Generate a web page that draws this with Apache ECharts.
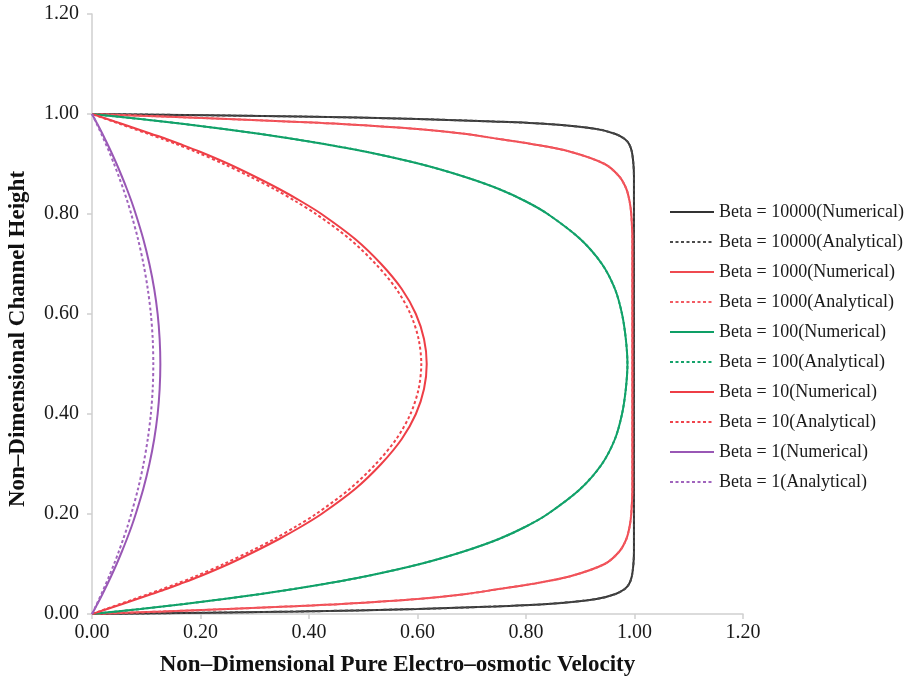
<!DOCTYPE html>
<html>
<head>
<meta charset="utf-8">
<script src="https://cdn.jsdelivr.net/npm/echarts@6/dist/echarts.min.js"></script>
<style>
  html, body { margin: 0; padding: 0; background: #ffffff; }
  #chart { width: 908px; height: 682px; }
</style>
</head>
<body>
<div id="chart"></div>
<script>
// Channel heights at which each velocity profile is sampled (dense near the walls)
const heights = [0, 0.005, 0.01, 0.015, 0.02, 0.03, 0.04, 0.05, 0.06, 0.075, 0.1, 0.125, 0.15, 0.175, 0.2, 0.25, 0.3, 0.35, 0.4, 0.45, 0.5,
                 0.55, 0.6, 0.65, 0.7, 0.75, 0.8, 0.825, 0.85, 0.875, 0.9, 0.925, 0.94, 0.95, 0.96, 0.97, 0.98, 0.985, 0.99, 0.995, 1];

// Velocity profiles, one value per height
const beta10000Num = [0, 0.38, 0.6, 0.74, 0.84, 0.93, 0.965, 0.982, 0.99, 0.995, 0.998, 0.999, 0.999, 0.999, 0.999, 0.999, 0.999, 0.999, 0.999, 0.999, 0.999,
                      0.999, 0.999, 0.999, 0.999, 0.999, 0.999, 0.999, 0.999, 0.999, 0.998, 0.995, 0.99, 0.982, 0.965, 0.93, 0.84, 0.74, 0.6, 0.38, 0];
const beta10000Ana = [0, 0.38, 0.6, 0.74, 0.84, 0.93, 0.965, 0.982, 0.99, 0.995, 0.998, 0.999, 0.999, 0.999, 0.999, 0.999, 0.999, 0.999, 0.999, 0.999, 0.999,
                      0.999, 0.999, 0.999, 0.999, 0.999, 0.999, 0.999, 0.999, 0.999, 0.998, 0.995, 0.99, 0.982, 0.965, 0.93, 0.84, 0.74, 0.6, 0.38, 0];
const beta1000Num = [0, 0.13, 0.25, 0.36, 0.46, 0.6, 0.69, 0.75, 0.81, 0.88, 0.945, 0.972, 0.985, 0.991, 0.994, 0.996, 0.996, 0.996, 0.996, 0.996, 0.996,
                     0.996, 0.996, 0.996, 0.996, 0.996, 0.994, 0.991, 0.985, 0.972, 0.945, 0.88, 0.81, 0.75, 0.69, 0.6, 0.46, 0.36, 0.25, 0.13, 0];
const beta1000Ana = [0, 0.13, 0.25, 0.36, 0.46, 0.6, 0.69, 0.75, 0.81, 0.88, 0.945, 0.972, 0.985, 0.991, 0.994, 0.996, 0.996, 0.996, 0.996, 0.996, 0.996,
                     0.996, 0.996, 0.996, 0.996, 0.996, 0.994, 0.991, 0.985, 0.972, 0.945, 0.88, 0.81, 0.75, 0.69, 0.6, 0.46, 0.36, 0.25, 0.13, 0];
const beta100Num = [0, 0.045, 0.089, 0.13, 0.17, 0.243, 0.311, 0.372, 0.428, 0.503, 0.605, 0.685, 0.75, 0.8, 0.84, 0.9, 0.94, 0.964, 0.977, 0.984, 0.987,
                    0.984, 0.977, 0.964, 0.94, 0.9, 0.84, 0.8, 0.75, 0.685, 0.605, 0.503, 0.428, 0.372, 0.311, 0.243, 0.17, 0.13, 0.089, 0.045, 0];
const beta100Ana = [0, 0.045, 0.089, 0.13, 0.17, 0.243, 0.311, 0.372, 0.428, 0.503, 0.605, 0.685, 0.75, 0.8, 0.84, 0.9, 0.94, 0.964, 0.977, 0.984, 0.987,
                    0.984, 0.977, 0.964, 0.94, 0.9, 0.84, 0.8, 0.75, 0.685, 0.605, 0.503, 0.428, 0.372, 0.311, 0.243, 0.17, 0.13, 0.089, 0.045, 0];
const beta10Num = [0, 0.014, 0.028, 0.042, 0.056, 0.083, 0.11, 0.137, 0.162, 0.198, 0.252, 0.3, 0.345, 0.386, 0.423, 0.485, 0.533, 0.571, 0.597, 0.612, 0.617,
                   0.612, 0.597, 0.571, 0.533, 0.485, 0.423, 0.386, 0.345, 0.3, 0.252, 0.198, 0.162, 0.137, 0.11, 0.083, 0.056, 0.042, 0.028, 0.014, 0];
const beta10Ana = [0, 0.013, 0.026, 0.039, 0.052, 0.078, 0.104, 0.13, 0.155, 0.19, 0.243, 0.291, 0.336, 0.376, 0.413, 0.475, 0.523, 0.561, 0.587, 0.602, 0.607,
                   0.602, 0.587, 0.561, 0.523, 0.475, 0.413, 0.376, 0.336, 0.291, 0.243, 0.19, 0.155, 0.13, 0.104, 0.078, 0.052, 0.039, 0.026, 0.013, 0];
const beta1Num = [0, 0.0025, 0.005, 0.0074, 0.0099, 0.0147, 0.0194, 0.0239, 0.0284, 0.035, 0.0454, 0.0551, 0.0643, 0.0729, 0.0806, 0.0945, 0.1058, 0.1147, 0.121, 0.1247, 0.126,
                  0.1247, 0.121, 0.1147, 0.1058, 0.0945, 0.0806, 0.0729, 0.0643, 0.0551, 0.0454, 0.035, 0.0284, 0.0239, 0.0194, 0.0147, 0.0099, 0.0074, 0.005, 0.0025, 0];
const beta1Ana = [0, 0.0023, 0.0045, 0.0067, 0.0089, 0.0132, 0.0174, 0.0215, 0.0255, 0.0314, 0.0407, 0.0494, 0.0576, 0.0653, 0.0723, 0.0848, 0.0949, 0.1028, 0.1085, 0.1119, 0.113,
                  0.1119, 0.1085, 0.1028, 0.0949, 0.0848, 0.0723, 0.0653, 0.0576, 0.0494, 0.0407, 0.0314, 0.0255, 0.0215, 0.0174, 0.0132, 0.0089, 0.0067, 0.0045, 0.0023, 0];

const axisTicks = [0, 0.2, 0.4, 0.6, 0.8, 1.0, 1.2];

const seriesDefs = [
  { name: 'Beta = 10000(Numerical)',  values: beta10000Num, color: '#333333', dashed: false },
  { name: 'Beta = 10000(Analytical)', values: beta10000Ana, color: '#4a4a4a', dashed: true },
  { name: 'Beta = 1000(Numerical)',   values: beta1000Num,  color: '#ef4a50', dashed: false },
  { name: 'Beta = 1000(Analytical)',  values: beta1000Ana,  color: '#f25a62', dashed: true },
  { name: 'Beta = 100(Numerical)',    values: beta100Num,   color: '#0e9f66', dashed: false },
  { name: 'Beta = 100(Analytical)',   values: beta100Ana,   color: '#13a36b', dashed: true },
  { name: 'Beta = 10(Numerical)',     values: beta10Num,    color: '#ee3e46', dashed: false },
  { name: 'Beta = 10(Analytical)',    values: beta10Ana,    color: '#f0434b', dashed: true },
  { name: 'Beta = 1(Numerical)',      values: beta1Num,     color: '#9957b5', dashed: false },
  { name: 'Beta = 1(Analytical)',     values: beta1Ana,     color: '#a064bd', dashed: true }
];

const serif = '"Liberation Serif", "Times New Roman", serif';

const chart = echarts.init(document.getElementById('chart'), null, { renderer: 'canvas' });

const fmt = v => axisTicks.indexOf(Math.round(v * 10) / 10) >= 0 ? v.toFixed(2) : '';

chart.setOption({
  animation: false,
  backgroundColor: '#ffffff',
  grid: { left: 92, right: 165, top: 14, bottom: 68, containLabel: false, outerBoundsMode: 'none' },
  legend: {
    orient: 'vertical',
    left: 664,
    top: 197,
    itemWidth: 44,
    itemHeight: 20,
    itemGap: 10,
    itemStyle: { opacity: 0 },
    textStyle: { fontFamily: serif, fontSize: 18, lineHeight: 20, color: '#1a1a1a' },
    data: seriesDefs.map(s => s.name)
  },
  xAxis: {
    type: 'value',
    min: 0, max: 1.2, interval: 0.2,
    name: 'Non\u2013Dimensional Pure Electro\u2013osmotic Velocity',
    nameLocation: 'middle',
    nameGap: 40,
    nameTextStyle: { fontFamily: serif, fontSize: 23, fontWeight: 'bold', color: '#111', padding: [0, 40, 0, 0] },
    axisLine: { show: true, lineStyle: { color: '#cfcfcf', width: 1.5 } },
    axisTick: { show: true, length: 5, lineStyle: { color: '#cfcfcf', width: 1.5 } },
    axisLabel: { fontFamily: serif, fontSize: 20, color: '#1a1a1a', margin: 9, formatter: fmt },
    splitLine: { show: false }
  },
  yAxis: {
    type: 'value',
    min: 0, max: 1.2, interval: 0.2,
    name: 'Non\u2013Dimensional Channel Height',
    nameLocation: 'middle',
    nameGap: 62,
    nameTextStyle: { fontFamily: serif, fontSize: 23, fontWeight: 'bold', color: '#111', padding: [0, 50, 0, 0] },
    axisLine: { show: true, lineStyle: { color: '#cfcfcf', width: 1.5 } },
    axisTick: { show: true, length: 5, lineStyle: { color: '#cfcfcf', width: 1.5 } },
    axisLabel: { fontFamily: serif, fontSize: 20, color: '#1a1a1a', margin: 13, formatter: fmt },
    splitLine: { show: false }
  },
  series: seriesDefs.map(s => ({
    name: s.name,
    type: 'line',
    data: s.values.map((v, i) => [v, heights[i]]),
    showSymbol: false,
    symbol: 'none',
    smooth: 0.3,
    color: s.color,
    lineStyle: { color: s.color, width: 2, type: s.dashed ? [3, 2.5] : 'solid' },
    emphasis: { disabled: true }
  }))
});
</script>
</body>
</html>
